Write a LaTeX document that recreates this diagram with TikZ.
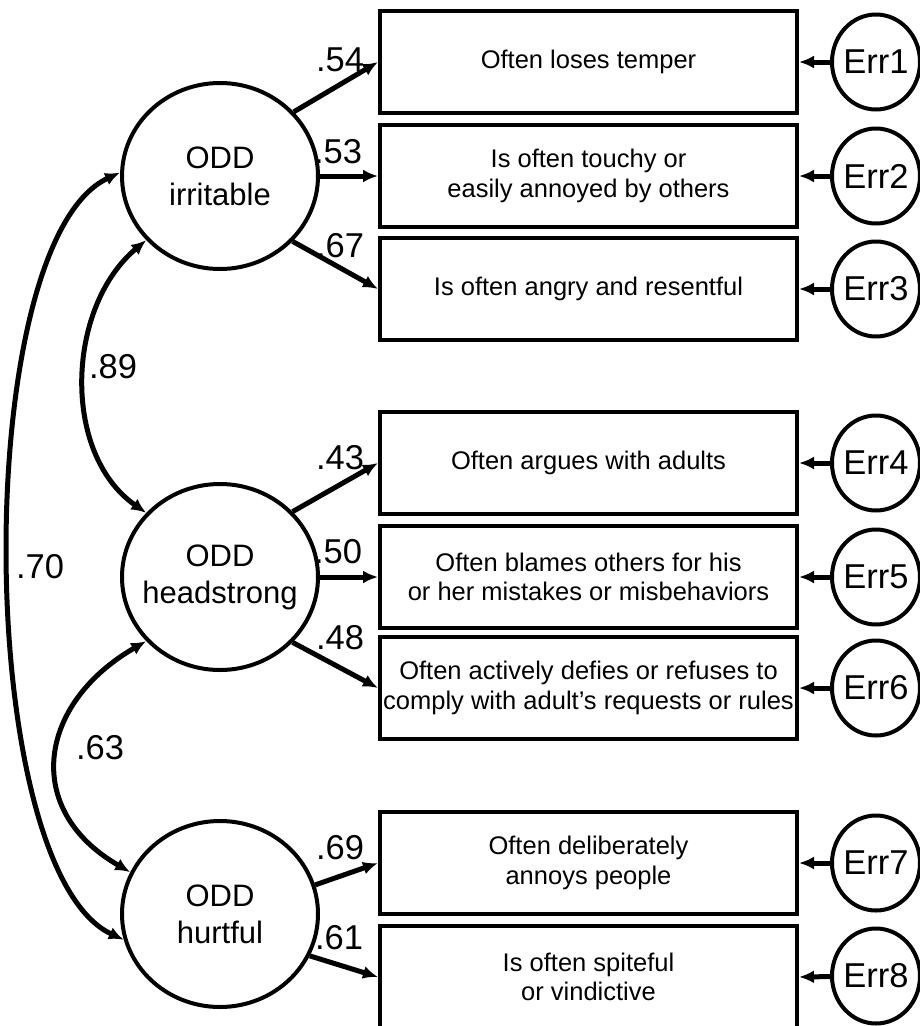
\documentclass[tikz,border=0pt]{standalone}
\usepackage{fontspec}
\setmainfont{Liberation Sans}
\usetikzlibrary{shapes.geometric,arrows.meta}
\tikzset{
  latent/.style={ellipse,draw,fill=white,line width=4pt,minimum width=196pt,minimum height=186pt,inner sep=0pt,
    label={[align=center,inner sep=0pt,font=\fontsize{31}{37}\selectfont]center:#1}},
  item/.style={rectangle,draw,line width=4pt,minimum width=417pt,minimum height=102pt,inner sep=0pt,align=center,font=\fontsize{25.5}{29.5}\selectfont},
  errn/.style={ellipse,draw,line width=4pt,minimum width=88pt,minimum height=95pt,inner sep=0pt,
    label={[inner sep=0pt,font=\fontsize{34.5}{40}\selectfont]center:#1}},
  lab/.style={inner sep=0pt,font=\fontsize{34.5}{40}\selectfont},
  arr/.style={line width=5pt,-{Latex[length=15pt,width=13pt]}},
  cov/.style={line width=5pt,{Latex[length=15pt,width=13pt]}-{Latex[length=15pt,width=13pt]}}
}
\begin{document}
\begin{tikzpicture}[x=1pt,y=1pt]
\useasboundingbox (0,0) rectangle (920,-1026);
% labels first so lines cover hidden dots
\node[lab] (l1) at (340,-60) {.54};
\node[lab] (l2) at (338,-152) {.53};
\node[lab] (l3) at (340,-246) {.67};
\node[lab] (l4) at (340,-458) {.43};
\node[lab] (l5) at (338,-552) {.50};
\node[lab] (l6) at (340,-638) {.48};
\node[lab] (l7) at (340,-848) {.69};
\node[lab] (l8) at (339,-938) {.61};
\node[lab] (c1) at (113,-367) {.89};
\node[lab] (c2) at (40,-567) {.70};
\node[lab] (c3) at (100,-748) {.63};
% latent factors
\node[latent={ODD\\irritable}] (irr) at (220,-176) {};
\node[latent={ODD\\headstrong}] (head) at (220,-577) {};
\node[latent={ODD\\hurtful}] (hurt) at (220,-914) {};
% items
\node[item] (b1) at (588.5,-62) {Often loses temper};
\node[item] (b2) at (588.5,-176) {Is often touchy or\\easily annoyed by others};
\node[item] (b3) at (588.5,-289) {Is often angry and resentful};
\node[item] (b4) at (588.5,-463) {Often argues with adults};
\node[item] (b5) at (588.5,-577) {Often blames others for his\\or her mistakes or misbehaviors};
\node[item] (b6) at (588.5,-688) {Often actively defies or refuses to\\comply with adult’s requests or rules};
\node[item] (b7) at (588.5,-863) {Often deliberately\\annoys people};
\node[item] (b8) at (588.5,-977) {Is often spiteful\\or vindictive};
% errors
\node[errn=Err1] (e1) at (876,-62) {};
\node[errn=Err2] (e2) at (876,-176) {};
\node[errn=Err3] (e3) at (876,-289) {};
\node[errn=Err4] (e4) at (876,-463) {};
\node[errn=Err5] (e5) at (876,-577) {};
\node[errn=Err6] (e6) at (876,-688) {};
\node[errn=Err7] (e7) at (876,-863) {};
\node[errn=Err8] (e8) at (876,-976) {};
% loadings
\draw[arr] (irr.41) -- (b1.west);
\draw[arr] (irr.east) -- (b2.west);
\draw[arr] (irr.-42) -- (b3.west);
\draw[arr] (head.42) -- (b4.west);
\draw[arr] (head.east) -- (b5.west);
\draw[arr] (head.-42) -- (b6.west);
\draw[arr] (hurt.17) -- (b7.west);
\draw[arr] (hurt.-25) -- (b8.west);
% errors
\foreach \i in {1,...,8} {\draw[arr] (e\i) -- (b\i.east);}
% covariances
\draw[cov] (irr.221) to[out=220,in=145,distance=104pt] (head.139);
\draw[cov] (irr.178) to[out=205,in=155,distance=166pt] (hurt.195);
\draw[cov] (head.221) to[out=210,in=150,distance=125pt] (hurt.155);
\end{tikzpicture}
\end{document}
